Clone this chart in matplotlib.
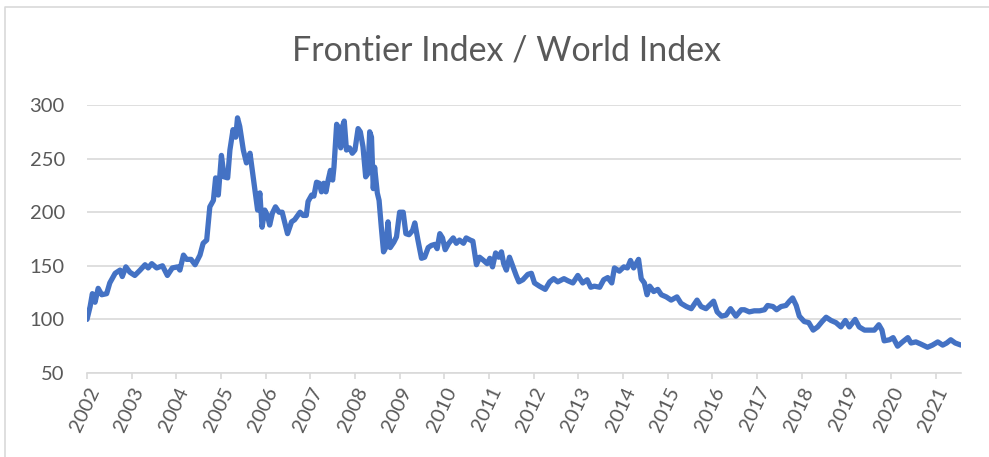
"""
Frontier Index / World Index 비율 차트 재현.
"""

import matplotlib
matplotlib.use("Agg")
import matplotlib.pyplot as plt
from matplotlib.lines import Line2D

# 날짜(소수 연도)와 지수 비율 값 — 그림에서 읽은 값
years = [
    2002.00, 2002.07, 2002.12, 2002.18, 2002.25, 2002.33, 2002.44, 2002.51, 2002.63, 2002.74,
    2002.79, 2002.87, 2002.96, 2003.07, 2003.19, 2003.30, 2003.37, 2003.45, 2003.56, 2003.69,
    2003.80, 2003.91, 2004.03, 2004.08, 2004.16, 2004.23, 2004.33, 2004.42, 2004.53, 2004.60,
    2004.68, 2004.75, 2004.83, 2004.88, 2004.94, 2005.01, 2005.07, 2005.15, 2005.20, 2005.27,
    2005.33, 2005.37, 2005.42, 2005.50, 2005.57, 2005.65, 2005.72, 2005.77, 2005.82, 2005.87,
    2005.92, 2005.98, 2006.04, 2006.09, 2006.15, 2006.22, 2006.30, 2006.37, 2006.43, 2006.49,
    2006.58, 2006.65, 2006.77, 2006.84, 2006.91, 2006.95, 2007.03, 2007.08, 2007.14, 2007.20,
    2007.25, 2007.30, 2007.35, 2007.40, 2007.45, 2007.50, 2007.53, 2007.59, 2007.65, 2007.68,
    2007.72, 2007.76, 2007.81, 2007.88, 2007.94, 2008.00, 2008.07, 2008.12, 2008.18, 2008.24,
    2008.29, 2008.33, 2008.37, 2008.41, 2008.44, 2008.50, 2008.54, 2008.59, 2008.64, 2008.69,
    2008.74, 2008.79, 2008.87, 2008.93, 2009.00, 2009.08, 2009.14, 2009.21, 2009.29, 2009.34,
    2009.41, 2009.49, 2009.56, 2009.64, 2009.71, 2009.79, 2009.84, 2009.90, 2009.96, 2010.02,
    2010.10, 2010.20, 2010.27, 2010.34, 2010.43, 2010.49, 2010.58, 2010.64, 2010.72, 2010.79,
    2010.88, 2010.96, 2011.02, 2011.08, 2011.15, 2011.22, 2011.28, 2011.33, 2011.39, 2011.46,
    2011.54, 2011.61, 2011.67, 2011.76, 2011.87, 2011.95, 2012.02, 2012.13, 2012.26, 2012.36,
    2012.45, 2012.54, 2012.68, 2012.77, 2012.88, 2012.99, 2013.10, 2013.20, 2013.28, 2013.36,
    2013.48, 2013.57, 2013.66, 2013.75, 2013.81, 2013.92, 2014.02, 2014.10, 2014.17, 2014.24,
    2014.35, 2014.41, 2014.48, 2014.54, 2014.60, 2014.69, 2014.78, 2014.86, 2014.97, 2015.08,
    2015.21, 2015.30, 2015.42, 2015.53, 2015.66, 2015.75, 2015.86, 2016.03, 2016.11, 2016.21,
    2016.31, 2016.41, 2016.53, 2016.65, 2016.72, 2016.83, 2016.94, 2017.06, 2017.17, 2017.24,
    2017.36, 2017.44, 2017.54, 2017.65, 2017.73, 2017.80, 2017.88, 2017.95, 2018.06, 2018.16,
    2018.26, 2018.36, 2018.46, 2018.55, 2018.66, 2018.77, 2018.88, 2018.98, 2019.07, 2019.20,
    2019.29, 2019.41, 2019.53, 2019.63, 2019.73, 2019.80, 2019.85, 2019.97, 2020.05, 2020.15,
    2020.26, 2020.38, 2020.45, 2020.56, 2020.67, 2020.82, 2020.93, 2021.05, 2021.16, 2021.25,
    2021.34, 2021.44, 2021.57,
]

ratio = [
    100, 112, 124, 116, 129, 123, 124, 134, 143, 146,
    140, 149, 144, 141, 146, 151, 148, 152, 148, 150,
    141, 148, 149, 146, 160, 156, 156, 151, 160, 171,
    174, 205, 211, 232, 216, 253, 233, 232, 258, 277,
    270, 288, 280, 258, 246, 255, 233, 218, 202, 218,
    186, 202, 197, 188, 199, 205, 200, 200, 190, 180,
    191, 193, 200, 197, 197, 210, 216, 215, 228, 227,
    219, 227, 219, 230, 239, 230, 242, 282, 277, 260,
    280, 285, 258, 260, 255, 258, 278, 275, 261, 233,
    236, 275, 270, 222, 242, 218, 211, 186, 163, 167,
    191, 167, 172, 177, 200, 200, 180, 179, 183, 190,
    174, 157, 158, 167, 169, 170, 166, 180, 176, 165,
    171, 176, 171, 174, 171, 176, 174, 173, 151, 158,
    155, 152, 157, 149, 162, 158, 163, 152, 146, 158,
    149, 141, 135, 137, 142, 143, 134, 131, 128, 135,
    138, 135, 138, 136, 134, 141, 134, 137, 130, 131,
    130, 137, 139, 134, 148, 145, 149, 148, 155, 148,
    156, 138, 134, 123, 131, 126, 128, 123, 121, 118,
    121, 115, 112, 110, 118, 112, 110, 117, 107, 103,
    104, 110, 103, 109, 109, 107, 108, 108, 109, 113,
    112, 109, 112, 113, 117, 120, 113, 103, 98, 97,
    90, 93, 98, 102, 99, 97, 93, 99, 93, 100,
    93, 90, 90, 90, 95, 90, 80, 81, 83, 75,
    79, 83, 78, 79, 77, 74, 76, 79, 76, 78,
    81, 78, 76,
]

tick_years = list(range(2002, 2022))
y_ticks = [50, 100, 150, 200, 250, 300]

LINE_COLOR = "#4472C4"
GRID_COLOR = "#D9D9D9"
TEXT_COLOR = "#595959"

plt.rcParams["font.family"] = ["Lato", "DejaVu Sans"]


def main():
    fig = plt.figure(figsize=(9.89, 4.57), dpi=100)
    ax = fig.add_axes([87 / 989, 1 - 373 / 457, (961 - 87) / 989, (373 - 105) / 457])

    ax.plot(years, ratio, color=LINE_COLOR, linewidth=3.8,
            solid_joinstyle="round", solid_capstyle="round", zorder=3)

    ax.set_xlim(years[0], years[-1])
    ax.set_ylim(50, 300)
    ax.set_yticks(y_ticks)
    ax.set_xticks(tick_years)
    ax.set_xticklabels([str(y) for y in tick_years], rotation=65,
                       ha="right", va="top", rotation_mode="anchor")

    # 엑셀 스타일: 가로 격자, 테두리 없음
    ax.grid(axis="y", color=GRID_COLOR, linewidth=1.2)
    ax.set_axisbelow(True)
    for side in ["left", "right", "top"]:
        ax.spines[side].set_visible(False)
    ax.spines["bottom"].set_color(GRID_COLOR)
    ax.spines["bottom"].set_linewidth(1.2)
    ax.spines["bottom"].set_zorder(1)

    ax.tick_params(axis="y", length=0, pad=16, labelsize=14.5, labelcolor=TEXT_COLOR)
    ax.tick_params(axis="x", length=4, width=1.2, color=GRID_COLOR, pad=4,
                   labelsize=14.5, labelcolor=TEXT_COLOR)

    fig.text(507 / 989, 1 - 50 / 457, "Frontier Index / World Index",
             ha="center", va="center", fontsize=24.5, color=TEXT_COLOR)

    # 차트 영역 바깥 테두리 (왼쪽, 위쪽만 보임)
    left_x = 5 / 989
    top_y = 1 - 7 / 457
    fig.add_artist(Line2D([left_x, left_x, 1.0], [0.0, top_y, top_y],
                          transform=fig.transFigure, color=GRID_COLOR, linewidth=1.2))

    fig.savefig("out.png", dpi=100)


if __name__ == "__main__":
    main()
